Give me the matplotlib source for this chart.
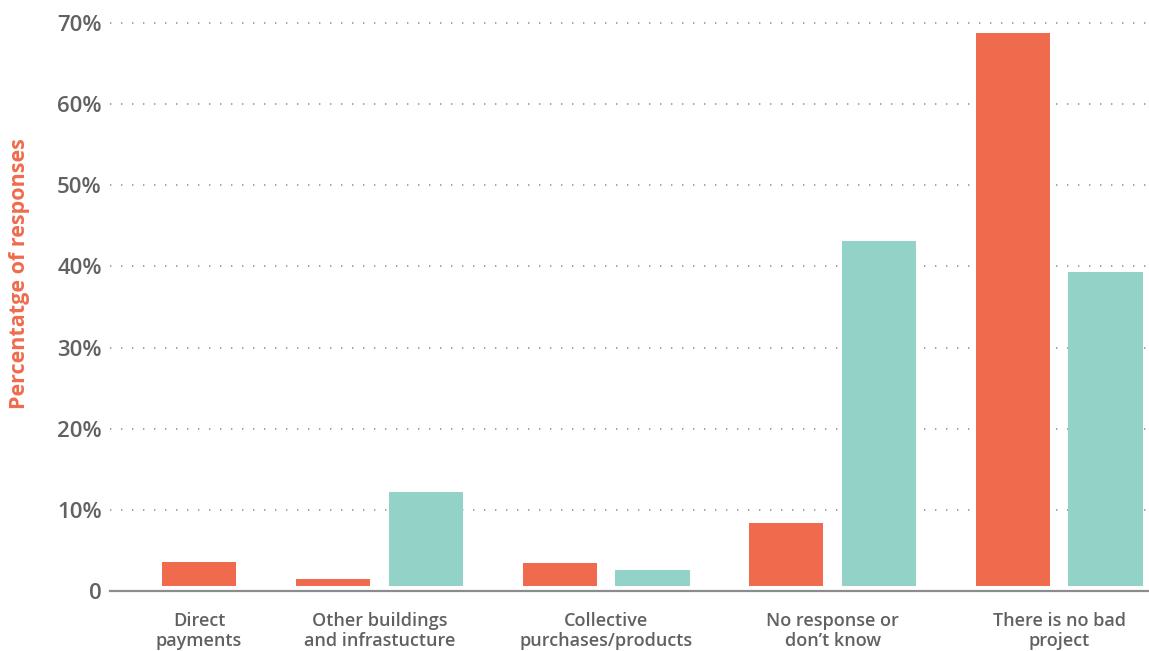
import numpy as np
import matplotlib
matplotlib.use('Agg')
import matplotlib.pyplot as plt

plt.rcParams['font.family'] = ['Open Sans', 'DejaVu Sans']

# data (percent of responses)
categories = ['Direct\npayments', 'Other buildings\nand infrastucture', 'Collective\npurchases/products',
              'No response or\ndon\u2019t know', 'There is no bad\nproject']
orange_vals = np.array([3.6, 1.5, 3.45, 8.4, 68.7])
teal_vals = np.array([np.nan, 12.2, 2.6, 43.1, 39.3])
y_ticks = [0, 10, 20, 30, 40, 50, 60, 70]
y_tick_labels = ['0', '10%', '20%', '30%', '40%', '50%', '60%', '70%']

# layout
centers = np.array([0.203, 1, 2, 3, 4])
width = 0.327
offset = 0.205
gap = 0.6  # bars float slightly above the axis line

orange = '#F06B4D'
teal = '#93D2C6'
grey_txt = '#616161'

fig = plt.figure(figsize=(11.49, 6.51), dpi=100)
ax = fig.add_axes([110 / 1149, 60 / 651, 1 - 110 / 1149, (591 - 6.6) / 651])

has_teal = ~np.isnan(teal_vals)
x_orange = np.where(has_teal, centers - offset, centers)
ax.bar(x_orange, orange_vals - gap, bottom=gap, width=width, color=orange, zorder=3)
ax.bar(centers[has_teal] + offset, teal_vals[has_teal] - gap, bottom=gap, width=width, color=teal, zorder=3)

ax.set_xlim(-0.19, 4.397)
ax.set_ylim(0, 72)

for t in y_ticks[1:]:
    ax.axhline(t, color='#8a8a8a', lw=1.1, linestyle=(0, (0.9, 6.3)), zorder=1)

for s in ['top', 'right', 'left']:
    ax.spines[s].set_visible(False)
ax.spines['bottom'].set_color('#8c8c8c')
ax.spines['bottom'].set_linewidth(1.6)

ax.set_yticks(y_ticks)
ax.set_yticklabels(y_tick_labels, fontsize=16, fontweight=600, color=grey_txt)
ax.set_xticks(centers)
ax.set_xticklabels(categories, fontsize=13, fontweight=600, color=grey_txt, linespacing=1.13)
ax.tick_params(axis='y', length=0, pad=6)
ax.tick_params(axis='x', length=0, pad=15)

fig.text(20 / 1149, 1 - 274 / 651, 'Percentatge of responses', rotation=90, ha='center', va='center',
         fontsize=15.5, fontweight='bold', color=orange)

fig.savefig('out.png', dpi=100)
